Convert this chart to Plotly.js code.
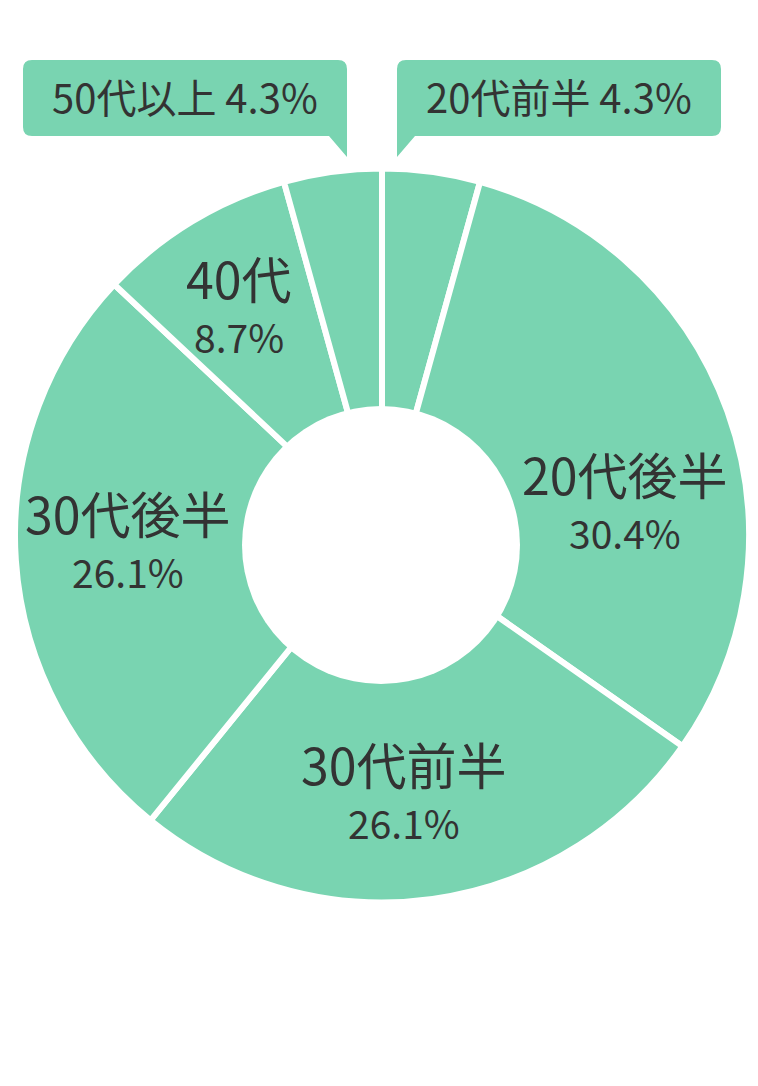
<!DOCTYPE html>
<html>
<head>
<meta charset="utf-8">
<script src="https://cdn.plot.ly/plotly-3.0.1.min.js"></script>
<style>html,body{margin:0;padding:0;background:#fff;}#chart{width:758px;height:1086px;}</style>
</head>
<body>
<div id="chart"></div>
<script>
// ---- data ----
const categories = ['20代前半', '20代後半', '30代前半', '30代後半', '40代', '50代以上'];
const shares = [4.3, 30.4, 26.1, 26.1, 8.7, 4.3];
const shareLabels = ['4.3%', '30.4%', '26.1%', '26.1%', '8.7%', '4.3%'];
const calloutSlices = [0, 5];          // small slices labelled in boxes above the ring
const insideSlices = [1, 2, 3, 4];     // slices labelled inside the ring

// ---- layout constants (pixels) ----
const W = 758, H = 1086;
const CX = 382, CY = 535.5, R = 367;
const HOLE_CX = 381, HOLE_CY = 545, HOLE_R = 139;
const GREEN = '#79D4B1';
const TEXT = '#333333';
const FONT = '"Noto Sans CJK JP", "Noto Sans", sans-serif';
const labelRadius = {1: 245, 2: 261, 3: 254, 4: 267};
const labelAngleNudge = {1: 12.9, 2: 3.1, 3: 1.7, 4: -1.1};
const callout = {
  5: {x0: 23, x1: 347, y0: 60, y1: 136, tipY: 157, tailSide: 'right', tailW: 18},
  0: {x0: 397, x1: 721, y0: 60, y1: 136, tipY: 157, tailSide: 'left', tailW: 18}
};

const X = px => px / W;
const Y = py => 1 - py / H;

const total = shares.reduce((a, b) => a + b, 0);
const midAngle = [];
let cum = 0;
shares.forEach(v => { midAngle.push((cum + v / 2) / total * 360); cum += v; });

const annotations = [];
insideSlices.forEach(i => {
  const th = (midAngle[i] + labelAngleNudge[i]) * Math.PI / 180;
  const px = CX + labelRadius[i] * Math.sin(th);
  const py = CY - labelRadius[i] * Math.cos(th);
  annotations.push({x: X(px), y: Y(py - 33), xref: 'paper', yref: 'paper', text: categories[i], borderpad: 0,
    showarrow: false, xanchor: 'center', yanchor: 'middle', font: {family: FONT, size: 50, color: TEXT}});
  annotations.push({x: X(px), y: Y(py + 26), xref: 'paper', yref: 'paper', text: shareLabels[i], borderpad: 0,
    showarrow: false, xanchor: 'center', yanchor: 'middle', font: {family: FONT, size: 39, color: TEXT}});
});

const shapes = [];
// offset hole of the ring
shapes.push({type: 'circle', xref: 'paper', yref: 'paper',
  x0: X(HOLE_CX - HOLE_R), x1: X(HOLE_CX + HOLE_R), y0: Y(HOLE_CY + HOLE_R), y1: Y(HOLE_CY - HOLE_R),
  fillcolor: '#ffffff', line: {width: 0}, layer: 'above'});

calloutSlices.forEach(i => {
  const b = callout[i], r = 9;
  const P = (x, y) => X(x).toFixed(5) + ',' + Y(y).toFixed(5);
  let d;
  if (b.tailSide === 'right') {
    d = 'M' + P(b.x0 + r, b.y0) + ' L' + P(b.x1 - r, b.y0) + ' Q' + P(b.x1, b.y0) + ' ' + P(b.x1, b.y0 + r) +
        ' L' + P(b.x1, b.tipY) + ' L' + P(b.x1 - b.tailW, b.y1) + ' L' + P(b.x0 + r, b.y1) +
        ' Q' + P(b.x0, b.y1) + ' ' + P(b.x0, b.y1 - r) + ' L' + P(b.x0, b.y0 + r) +
        ' Q' + P(b.x0, b.y0) + ' ' + P(b.x0 + r, b.y0) + ' Z';
  } else {
    d = 'M' + P(b.x0 + r, b.y0) + ' L' + P(b.x1 - r, b.y0) + ' Q' + P(b.x1, b.y0) + ' ' + P(b.x1, b.y0 + r) +
        ' L' + P(b.x1, b.y1 - r) + ' Q' + P(b.x1, b.y1) + ' ' + P(b.x1 - r, b.y1) +
        ' L' + P(b.x0 + b.tailW, b.y1) + ' L' + P(b.x0, b.tipY) + ' L' + P(b.x0, b.y0 + r) +
        ' Q' + P(b.x0, b.y0) + ' ' + P(b.x0 + r, b.y0) + ' Z';
  }
  shapes.push({type: 'path', xref: 'paper', yref: 'paper', path: d, fillcolor: GREEN, line: {width: 0}, layer: 'below'});
  annotations.push({x: X((b.x0 + b.x1) / 2), y: Y((b.y0 + b.y1) / 2 - 2), xref: 'paper', yref: 'paper',
    text: categories[i] + ' ' + shareLabels[i], showarrow: false, xanchor: 'center', yanchor: 'middle',
    font: {family: FONT, size: 40, color: TEXT}});
});

const trace = {
  type: 'pie',
  labels: categories,
  values: shares,
  sort: false,
  direction: 'clockwise',
  rotation: 0,
  hole: 0.25,
  textinfo: 'none',
  hoverinfo: 'none',
  marker: {colors: categories.map(() => GREEN), line: {color: '#ffffff', width: 6}},
  domain: {x: [X(CX - R), X(CX + R)], y: [Y(CY + R), Y(CY - R)]}
};

Plotly.newPlot('chart', [trace], {
  width: W, height: H,
  margin: {l: 0, r: 0, t: 0, b: 0},
  paper_bgcolor: '#ffffff',
  showlegend: false,
  annotations: annotations,
  shapes: shapes
}, {displayModeBar: false, staticPlot: true});
</script>
</body>
</html>
